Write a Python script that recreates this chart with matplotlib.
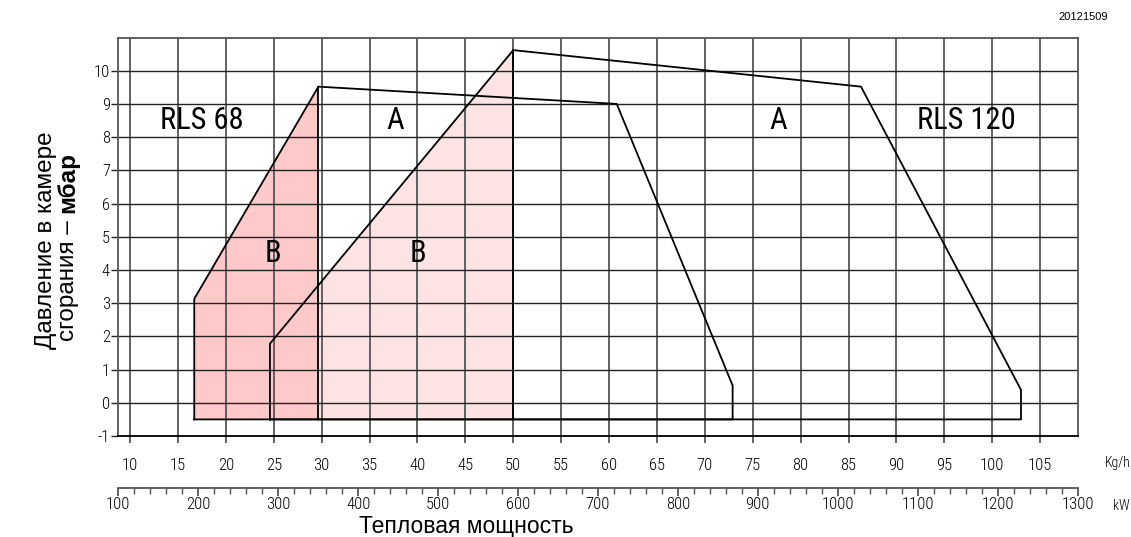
#!/usr/bin/env python3
# coding=utf-8
# ----------------------------------------------------------------------------------------------------
# RLS 68 / RLS 120 - рабочие поля горелок
# ----------------------------------------------------------------------------------------------------
import matplotlib
matplotlib.use("Agg")
import matplotlib.pyplot as plt
from matplotlib import font_manager as fm
# ----------------------------------------------------------------------------------------------------
# данные (расход Kg/h, давление мбар)
rls68_kgh  = [16.7, 16.7, 29.66, 60.8, 72.9, 72.9]
rls68_mbar = [-0.5, 3.13, 9.52, 9.0, 0.52, -0.5]
rls120_kgh  = [24.6, 24.6, 50.0, 86.3, 103.0, 103.0]
rls120_mbar = [-0.5, 1.78, 10.62, 9.52, 0.39, -0.5]
peak_idx = 2  # граница зоны B

kgh_ticks  = list(range(10, 110, 5))
mbar_ticks = list(range(-1, 11))
kw_ticks   = list(range(100, 1400, 100))
kw_minor   = list(range(100, 1320, 20))

zone_labels = [("RLS 68", 17.5, 8.5), ("A", 37.7, 8.5), ("B", 24.9, 4.5), ("B", 40.0, 4.5),
               ("A", 77.6, 8.5), ("RLS 120", 97.3, 8.5)]
# ----------------------------------------------------------------------------------------------------
plt.rcParams['axes.unicode_minus'] = False

names = {f.name for f in fm.fontManager.ttflist}
cond = None
for fam in ["Roboto Condensed", "Liberation Sans Narrow", "Open Sans Condensed", "Noto Sans Condensed"]:
    if fam in names:
        cond = dict(family=fam)
        break
if cond is None:
    narrow = [f.name for f in fm.fontManager.ttflist
              if f.stretch in ("condensed", "semi-condensed", "extra-condensed") and f.name != "DejaVu Sans"]
    if narrow:
        cond = dict(family=narrow[0], stretch="condensed")
    else:
        cond = dict(family="DejaVu Sans", stretch="condensed")
plain = dict(family="Liberation Sans")

W, H = 1131, 537
fig = plt.figure(figsize=(W / 100, H / 100), dpi=100)
L, R, T, B = 118.3, 1077.5, 37.5, 436.0
ax = fig.add_axes([L / W, 1 - B / H, (R - L) / W, (B - T) / H])
ax.set_xlim(8.77, 108.9)
ax.set_ylim(-1, 11)

# зоны B
ax.fill(rls120_kgh[:peak_idx + 1] + [rls120_kgh[peak_idx]],
        rls120_mbar[:peak_idx + 1] + [rls120_mbar[0]], color="#fde3e3", lw=0, zorder=1)
ax.fill(rls68_kgh[:peak_idx + 1] + [rls68_kgh[peak_idx]],
        rls68_mbar[:peak_idx + 1] + [rls68_mbar[0]], color="#fdc9c9", lw=0, zorder=1.1)

# сетка
for x in kgh_ticks:
    ax.axvline(x, color="#555555", lw=1.3, zorder=2)
for y in mbar_ticks[1:]:
    ax.axhline(y, color="#222222", lw=1.0, zorder=2)

# контуры
for xs, ys in [(rls68_kgh, rls68_mbar), (rls120_kgh, rls120_mbar)]:
    ax.plot(xs + [xs[0]], ys + [ys[0]], color="black", lw=1.3, zorder=3)
    ax.plot([xs[peak_idx], xs[peak_idx]], [ys[peak_idx], ys[0]], color="black", lw=1.3, zorder=3)

for txt, x, y in zone_labels:
    ax.text(x, y, txt, ha="center", va="center", fontsize=22, zorder=4, **cond)

ax.set_xticks(kgh_ticks)
ax.set_yticks(mbar_ticks)
ax.tick_params(axis="x", direction="out", length=5, width=1.3, color="#555555", pad=11)
ax.tick_params(axis="y", direction="out", length=5, width=1.0, color="#222222", pad=1)
for lab in ax.get_xticklabels() + ax.get_yticklabels():
    lab.set_fontproperties(fm.FontProperties(size=12, weight="light", **cond))
for s in ["left", "right", "top"]:
    ax.spines[s].set_color("#555555")
    ax.spines[s].set_linewidth(1.3)
ax.spines["bottom"].set_color("black")
ax.spines["bottom"].set_linewidth(1.3)

# ось kW
kax = fig.add_axes([L / W, 1 - 488 / H, (R - L) / W, 0.0001])
kax.set_xlim(100, 1300)
kax.set_yticks([])
for s in ["left", "right", "top"]:
    kax.spines[s].set_visible(False)
kax.spines["bottom"].set_color("#555555")
kax.spines["bottom"].set_linewidth(1.3)
kax.set_xticks(kw_ticks)
kax.set_xticks(kw_minor, minor=True)
kax.tick_params(axis="x", which="major", direction="out", length=6, width=1.3, color="#555555", pad=0.5)
kax.tick_params(axis="x", which="minor", direction="out", length=4, width=1.0, color="#555555")
for lab in kax.get_xticklabels():
    lab.set_fontproperties(fm.FontProperties(size=12, weight="light", **cond))

# подписи
fig.text(1118 / W, 1 - 463 / H, "Kg/h", ha="center", va="center", fontsize=10, fontweight="light", **cond)
fig.text(1121 / W, 1 - 506 / H, "kW", ha="center", va="center", fontsize=10, fontweight="light", **cond)
fig.text(1108 / W, 1 - 17 / H, "20121509", ha="right", va="center", fontsize=8, **plain)
fig.text(466 / W, 1 - 526 / H, "Тепловая мощность", ha="center", va="center", fontsize=16.5, **plain)

fig.text(46 / W, 1 - 240 / H, "Давление в камере", rotation=90, ha="center", va="center",
         fontsize=17.5, **plain)
ysplit = 1 - 213 / H
fig.text(68 / W, ysplit, "сгорания – ", rotation=90, ha="center", va="top", fontsize=17.5, **plain)
fig.text(68 / W, ysplit, "мбар", rotation=90, ha="center", va="bottom", fontsize=17.5,
         fontweight="bold", **plain)

fig.savefig("out.png", dpi=100)
